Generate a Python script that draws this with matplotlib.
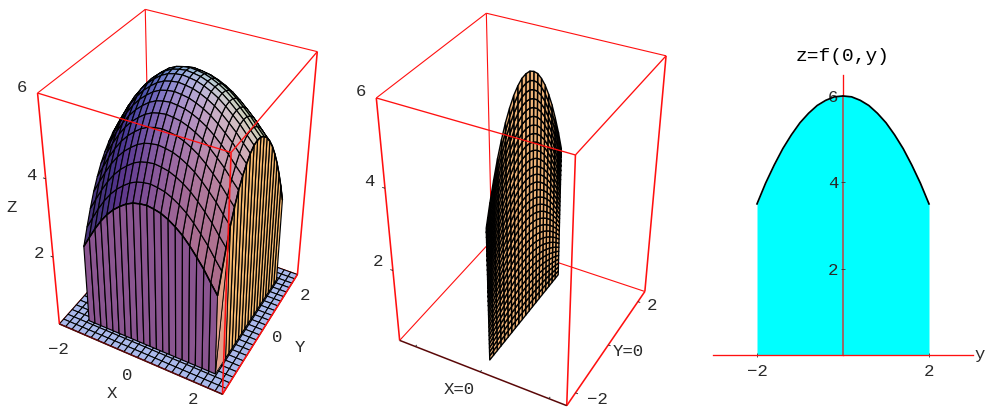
import numpy as np
import matplotlib
matplotlib.use("Agg")
import matplotlib.pyplot as plt
from mpl_toolkits.mplot3d.art3d import Poly3DCollection, Line3DCollection

# ---------- data ----------
grid_vals = [-2.0, -1.8, -1.6, -1.4, -1.2, -1.0, -0.8, -0.6, -0.4, -0.2, 0.0,
             0.2, 0.4, 0.6, 0.8, 1.0, 1.2, 1.4, 1.6, 1.8, 2.0]
ridge_z = [3.50, 3.98, 4.40, 4.78, 5.10, 5.38, 5.60, 5.78, 5.90, 5.98, 6.00,
           5.98, 5.90, 5.78, 5.60, 5.38, 5.10, 4.78, 4.40, 3.98, 3.50]
# left panel: surface columns, crest along y and fall-off along x
surf_x = [-1.85, -1.655, -1.46, -1.265, -1.07, -0.875, -0.68, -0.485, -0.29, -0.095, 0.1,
          0.295, 0.49, 0.685, 0.88, 1.075, 1.27, 1.465, 1.66, 1.855, 2.05]
surf_crest = [3.85, 4.25, 4.62, 4.95, 5.22, 5.45, 5.63, 5.78, 5.90, 5.98, 6.00,
              5.98, 5.90, 5.78, 5.60, 5.38, 5.10, 4.78, 4.40, 3.98, 3.50]
surf_drop = [1.65, 1.35, 1.06, 0.80, 0.58, 0.40, 0.26, 0.14, 0.06, 0.02, 0.00,
             0.02, 0.05, 0.11, 0.19, 0.29, 0.42, 0.57, 0.73, 0.92, 1.10]
# extra sag of the +x side, by y (front of the dome falls faster)
surf_sag = [0.50, 0.40, 0.31, 0.23, 0.16, 0.10, 0.06, 0.03, 0.01, 0.00, 0.00,
            0.00, 0.00, 0.00, 0.00, 0.00, 0.00, 0.00, 0.00, 0.00, 0.00]
x_range = [-2.5, 2.5]
y_range = [-2.5, 2.5]
z_range = [0.1, 5.95]
base_cells = 24
sheet_levels = 30
axis_ticks = [-2, 0, 2]
z_ticks = [2, 4, 6]
slice_xticks = [-2, 2]
slice_zticks = [2, 4, 6]

W, H = 986, 407
RED = "#ff1010"
MAROON = "#5a0808"
TXT = "#2a2a2a"
FONT = "Liberation Mono"
FRONT_COL = (138 / 255, 85 / 255, 144 / 255)
RIGHT_COL = (245 / 255, 185 / 255, 112 / 255)
BASE_COL = (170 / 255, 185 / 255, 235 / 255)
SHEET_COL = (240 / 255, 180 / 255, 120 / 255)
WEDGE_COL = (0.89, 0.63, 0.55)

corners_3d = [
    (x_range[0], y_range[0], z_range[0]), (x_range[1], y_range[0], z_range[0]),
    (x_range[1], y_range[1], z_range[0]), (x_range[0], y_range[1], z_range[0]),
    (x_range[0], y_range[0], z_range[1]), (x_range[1], y_range[0], z_range[1]),
    (x_range[1], y_range[1], z_range[1]), (x_range[0], y_range[1], z_range[1])]
view_left = [(61, 328), (222, 392), (297, 278), (149, 217),
             (37, 93), (230, 150), (319, 52), (145, 11)]
view_mid = [(400, 340), (567, 406), (645, 291), (491, 241),
            (376, 98), (575, 155), (666, 56), (487, 13)]

fig = plt.figure(figsize=(W / 100, H / 100), dpi=100, facecolor="white")


def fit_camera(pts3, pts2):
    rows = []
    for (X, Y, Z), (u, v) in zip(pts3, pts2):
        v = H - v
        p = [X, Y, Z, 1.0]
        rows.append(p + [0, 0, 0, 0] + [-u * c for c in p])
        rows.append([0, 0, 0, 0] + p + [-v * c for c in p])
    P = np.linalg.svd(np.array(rows))[2][-1].reshape(3, 4)
    return P / P[2, 3]


def make_axes(rect, pts2):
    ax = fig.add_axes(rect, projection="3d", computed_zorder=False)
    ax.set_axis_off()
    ax.patch.set_visible(False)
    P = fit_camera(corners_3d, pts2)

    def get_proj():
        ax.apply_aspect()
        T = ax.transData.inverted().get_matrix()
        top = T @ P
        depth = P[2] - np.array([0, 0, 0, 0.5])
        return np.array([top[0], top[1], depth, top[2]])

    ax.get_proj = get_proj
    return ax


def shade(n):
    n = np.asarray(n, float)
    n = n / np.linalg.norm(n, axis=-1, keepdims=True)
    amb = np.array([0.27, 0.20, 0.20])
    L = np.array([[0.46, -0.10, 0.33], [0.34, 0.12, 0.50], [0.08, -0.10, 0.66]])
    return np.clip(amb + np.clip(n @ L.T, 0, None), 0, 1)


def add_polys(ax, verts, colors, z, lw=0.8, edge="black"):
    c = Poly3DCollection(verts, facecolors=colors, edgecolors=edge, linewidths=lw,
                         zorder=z, zsort="average", clip_on=False)
    ax.add_collection3d(c, autolim=False)
    return c


def add_lines(ax, segs, color, lw, z):
    c = Line3DCollection(segs, colors=color, linewidths=lw, zorder=z, clip_on=False)
    ax.add_collection3d(c, autolim=False)
    return c


def draw_box(ax):
    a, b = x_range
    c, d = y_range
    e, f = z_range
    add_lines(ax, [((a, d, e), (a, d, f)), ((a, c, e), (a, d, e)), ((a, d, e), (b, d, e)),
                   ((a, d, f), (a, c, f)), ((a, d, f), (b, d, f))], RED, 0.8, 1)
    add_lines(ax, [((a, c, f), (b, c, f)), ((b, c, f), (b, d, f))], RED, 0.95, 8)
    add_lines(ax, [((a, c, e), (a, c, f)), ((b, c, e), (b, c, f)), ((b, d, e), (b, d, f)),
                   ((b, c, e), (b, d, e))], RED, 1.15, 8)
    add_lines(ax, [((a, c, e), (b, c, e))], MAROON, 1.1, 8)
    add_lines(ax, [((a, c, t), (a - 0.08, c, t)) for t in z_ticks[:-1]], "#222222", 0.6, 8)


# ---------- left panel ----------
ax1 = make_axes((0, 0, 340 / W, 1), view_left)
draw_box(ax1)
xs = np.array(surf_x)
ys = np.array(grid_vals)
drop = np.array(surf_drop)
share = np.where(xs > 0, drop / drop.max() * 1.5, 0.0)
Z = np.array(surf_crest)[:, None] - drop[None, :] - np.array(surf_sag)[:, None] * share[None, :]
floor = z_range[0]
n = len(xs)

bx = np.linspace(x_range[0], x_range[1], base_cells + 1)
by = np.linspace(y_range[0], y_range[1], base_cells + 1)
base_polys = [[(bx[i], by[j], floor), (bx[i + 1], by[j], floor),
               (bx[i + 1], by[j + 1], floor), (bx[i], by[j + 1], floor)]
              for i in range(base_cells) for j in range(base_cells)]
add_polys(ax1, base_polys, [BASE_COL] * len(base_polys), 2, lw=0.75)

dzdy, dzdx = np.gradient(Z, ys, xs)
top_polys, top_cols = [], []
for j in range(n - 1):
    for i in range(n - 1):
        top_polys.append([(xs[i], ys[j], Z[j, i]), (xs[i + 1], ys[j], Z[j, i + 1]),
                          (xs[i + 1], ys[j + 1], Z[j + 1, i + 1]), (xs[i], ys[j + 1], Z[j + 1, i])])
        gx = dzdx[j:j + 2, i:i + 2].mean()
        gy = dzdy[j:j + 2, i:i + 2].mean()
        top_cols.append(shade([-gx, -gy, 1.0]))
add_polys(ax1, top_polys, top_cols, 3, lw=0.85)

front_polys = [[(xs[i], ys[0], floor), (xs[i + 1], ys[0], floor),
                (xs[i + 1], ys[0], Z[0, i + 1]), (xs[i], ys[0], Z[0, i])] for i in range(n - 1)]
add_polys(ax1, front_polys, [FRONT_COL] * len(front_polys), 4, lw=0.85)

wedge_end = 3
right_polys = [[(xs[-1], ys[j], floor), (xs[-1], ys[j + 1], floor),
                (xs[-1], ys[j + 1], Z[j + 1, -1]), (xs[-1], ys[j], Z[j, -1])]
               for j in range(wedge_end, n - 1)]
add_polys(ax1, right_polys, [RIGHT_COL] * len(right_polys), 5, lw=0.85)
wedge = [[(xs[-1], ys[0], floor), (xs[-1], ys[wedge_end], floor), (xs[-1], ys[wedge_end], Z[wedge_end, -1])],
         [(xs[-1], ys[0], floor), (xs[-1], ys[wedge_end], Z[wedge_end, -1]), (xs[-1], ys[0], Z[0, -1])]]
add_polys(ax1, wedge, [WEDGE_COL] * 2, 5, lw=0.6)

front_arc = [((xs[i], ys[0], Z[0, i]), (xs[i + 1], ys[0], Z[0, i + 1])) for i in range(n - 1)]
right_arc = [((xs[-1], ys[j], Z[j, -1]), (xs[-1], ys[j + 1], Z[j + 1, -1])) for j in range(n - 1)]
add_lines(ax1, front_arc + right_arc, "black", 1.1, 6)

# ---------- middle panel ----------
ax2 = make_axes((340 / W, 0, 340 / W, 1), view_mid)
draw_box(ax2)
ridge = np.array(ridge_z)
sheet_y = np.array(grid_vals)
levels = np.linspace(0, 1, sheet_levels + 1)


def sheet_z(jj, kk):
    return floor + levels[kk] * (ridge[jj] - floor)


sheet = []
for j in range(n - 1):
    for k in range(sheet_levels):
        sheet.append([(0, sheet_y[j], sheet_z(j, k)), (0, sheet_y[j + 1], sheet_z(j + 1, k)),
                      (0, sheet_y[j + 1], sheet_z(j + 1, k + 1)), (0, sheet_y[j], sheet_z(j, k + 1))])
add_polys(ax2, sheet, [SHEET_COL] * len(sheet), 4, lw=1.0)
tick_segs = []
for t in axis_ticks:
    tick_segs.append(((t, y_range[0], floor), (t, y_range[0] + 0.07, floor)))
    tick_segs.append(((x_range[1], t, floor), (x_range[1] + 0.07, t, floor)))
add_lines(ax2, tick_segs, "#222222", 0.6, 8)

# ---------- right panel ----------
ax3 = fig.add_axes((713 / W, (H - 355) / H, 260 / W, 280 / H))
px_x, px_z = 43.0, 43.17
ax3.set_xlim(-130 / px_x, 130 / px_x)
ax3.set_ylim(0, 280 / px_z)
ax3.fill_between(grid_vals, 0, ridge_z, color="#00ffff", lw=0, zorder=1)
ax3.plot([0, 0], [0, max(ridge_z)], color="#b05050", lw=1.2, zorder=1.2)
ax3.plot(grid_vals, ridge_z, color="black", lw=1.25, zorder=4, clip_on=False)
ax3.patch.set_visible(False)
for s in ("top", "right"):
    ax3.spines[s].set_visible(False)
ax3.spines["left"].set_position(("data", 0))
ax3.spines["bottom"].set_position(("data", 0))
for s in ("left", "bottom"):
    ax3.spines[s].set_color(RED)
    ax3.spines[s].set_linewidth(0.95)
ax3.spines["left"].set_zorder(0.5)
ax3.spines["bottom"].set_zorder(5)
ax3.set_xticks(slice_xticks, ["\u22122", "2"])
ax3.set_yticks(slice_zticks, [str(v) for v in slice_zticks])
ax3.tick_params(axis="both", width=0.6, color="#333333", labelcolor=TXT, labelsize=12.5)
ax3.tick_params(axis="x", direction="inout", pad=5, length=3)
ax3.tick_params(axis="y", direction="inout", pad=2, length=3)
for lab in ax3.get_xticklabels() + ax3.get_yticklabels():
    lab.set_family(FONT)
ax3.set_title("z=f(0,y)", fontfamily=FONT, fontsize=14, color="black", pad=10, fontweight="normal")
ax3.text(3.18, 0, "y", fontfamily=FONT, fontsize=12.5, color=TXT, ha="center", va="center", clip_on=False)

# ---------- labels of the two 3-D panels ----------
labels = [("6", 22, 88), ("4", 31, 176), ("2", 39, 253), ("Z", 12, 207),
          ("\u22122", 58, 350), ("0", 127, 375), ("X", 112, 393), ("2", 193, 400),
          ("2", 305, 295), ("0", 277, 338), ("Y", 300, 347),
          ("6", 361, 92), ("4", 369, 182), ("2", 378, 262), ("Y=0", 628, 351),
          ("X=0", 459, 389), ("2", 652, 306), ("\u22122", 597, 399)]
for s, x, y in labels:
    fig.text(x / W, 1 - y / H, s, fontfamily=FONT, fontsize=12.5, color=TXT, ha="center", va="center")

fig.savefig("out.png", dpi=100)
